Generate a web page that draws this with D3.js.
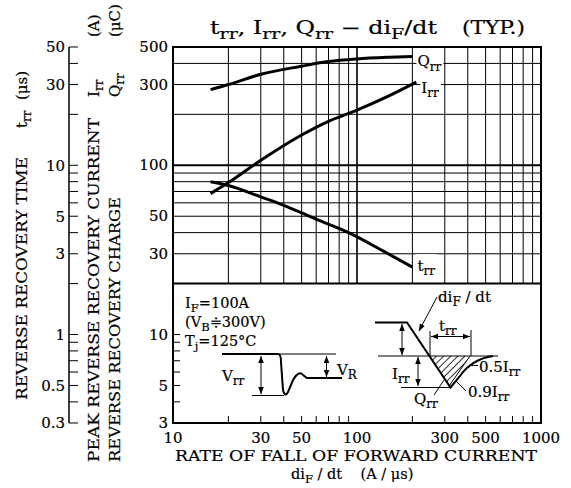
<!DOCTYPE html>
<html>
<head>
<meta charset="utf-8">
<script src="https://cdn.jsdelivr.net/npm/d3@7"></script>
<style>
  body { margin: 0; background: #fff; }
  svg text { font-family: "DejaVu Serif", serif; fill: #000; white-space: pre; stroke: #000; stroke-width: 0.2px; }
</style>
</head>
<body>
<script>
// chart values
var gridX = [20, 30, 40, 50, 60, 70, 80, 90, 100, 200, 300, 400, 500, 600, 700, 800, 900];
var gridY = [30, 40, 50, 60, 70, 80, 90, 100, 200, 300, 400];
var xLabels = [10, 30, 50, 100, 300, 500, 1000];
var rightLabels = [3, 5, 10, 30, 50, 100, 300, 500];
var leftLabels = [0.3, 0.5, 1, 3, 5, 10, 30, 50];
var leftTicks = [0.3, 0.4, 0.5, 0.6, 0.7, 0.8, 0.9, 1, 2, 3, 4, 5, 6, 7, 8, 9, 10, 20, 30, 40, 50];
var insetTicks = [4, 5, 6, 7, 8, 9, 10];

// Qrr (uC) and Irr (A) on the inner scale, trr (us) on the outer scale
var qrr = [[16, 280], [20, 300], [30, 345], [50, 385], [70, 410], [100, 425], [150, 435], [200, 440]];
var irr = [[16, 68], [20, 79], [30, 107], [50, 151], [70, 182], [100, 212], [150, 258], [210, 310]];
var trr = [[16, 8.0], [20, 7.6], [30, 6.5], [40, 5.8], [60, 4.8], [90, 4.0], [140, 3.1], [200, 2.5]];

var svg = d3.select("body").append("svg")
    .attr("width", 571)
    .attr("height", 488);

var x = d3.scaleLog().domain([10, 1000]).range([173, 541]);
var y = d3.scaleLog().domain([3, 500]).range([423, 47]);
var yLeft = d3.scaleLog().domain([0.3, 50]).range([423, 47]);

var defs = svg.append("defs");
defs.append("marker")
    .attr("id", "ah")
    .attr("viewBox", "0 0 10 10")
    .attr("refX", 10).attr("refY", 5)
    .attr("markerWidth", 7).attr("markerHeight", 7)
    .attr("markerUnits", "userSpaceOnUse")
    .attr("orient", "auto-start-reverse")
    .append("path").attr("d", "M0,1 L10,5 L0,9 Z").attr("fill", "#000");

// writes text with subscripts, parts = [[str, isSub], ...]
function rich(t, parts, size) {
    var down = false;
    parts.forEach(function(p) {
        var s = t.append("tspan").text(p[0]);
        if (p[1] && !down) { s.attr("dy", size * 0.28).attr("font-size", size * 0.8); down = true; }
        else if (p[1]) { s.attr("font-size", size * 0.8); }
        else if (down) { s.attr("dy", -size * 0.28); down = false; }
    });
    return t;
}

// grid
var grid = svg.append("g");
grid.selectAll(".gx").data(gridX).enter().append("line")
    .attr("x1", function(d) { return x(d); })
    .attr("x2", function(d) { return x(d); })
    .attr("y1", y(500)).attr("y2", y(20))
    .attr("stroke", "#000")
    .attr("stroke-width", function(d) { return d == 100 ? 1.6 : 1; });
grid.selectAll(".gy").data(gridY).enter().append("line")
    .attr("x1", x(10)).attr("x2", x(1000))
    .attr("y1", function(d) { return y(d); })
    .attr("y2", function(d) { return y(d); })
    .attr("stroke", "#000")
    .attr("stroke-width", function(d) { return d == 100 ? 2 : 1; });

// frame and the line closing the grid at 20
svg.append("rect")
    .attr("x", x(10)).attr("y", y(500))
    .attr("width", x(1000) - x(10)).attr("height", y(3) - y(500))
    .attr("fill", "none").attr("stroke", "#000").attr("stroke-width", 2);
svg.append("line")
    .attr("x1", x(10)).attr("x2", x(1000))
    .attr("y1", y(20)).attr("y2", y(20))
    .attr("stroke", "#000").attr("stroke-width", 2);

// inward ticks in the lower box
svg.selectAll(".ti").data(insetTicks).enter().append("line")
    .attr("x1", x(10)).attr("x2", x(10) + 7)
    .attr("y1", function(d) { return y(d); })
    .attr("y2", function(d) { return y(d); })
    .attr("stroke", "#000");
svg.selectAll(".tb").data(gridX.filter(function(d) { return d != 100; })).enter().append("line")
    .attr("x1", function(d) { return x(d); })
    .attr("x2", function(d) { return x(d); })
    .attr("y1", y(3)).attr("y2", y(3) - 7)
    .attr("stroke", "#000");

// tick labels
svg.selectAll(".lx").data(xLabels).enter().append("text")
    .attr("x", function(d) { return x(d); })
    .attr("y", 443)
    .attr("text-anchor", "middle")
    .attr("font-size", 15)
    .text(function(d) { return d; });
svg.selectAll(".lr").data(rightLabels).enter().append("text")
    .attr("x", 168)
    .attr("y", function(d) { return y(d); })
    .attr("dy", "0.34em")
    .attr("text-anchor", "end")
    .attr("font-size", 15)
    .text(function(d) { return d; });

// outer left axis (trr in us)
svg.append("line")
    .attr("x1", 69).attr("x2", 69)
    .attr("y1", yLeft(50)).attr("y2", yLeft(0.3))
    .attr("stroke", "#000").attr("stroke-width", 1.5);
svg.selectAll(".tl").data(leftTicks).enter().append("line")
    .attr("x1", 69).attr("x2", 78)
    .attr("y1", function(d) { return yLeft(d); })
    .attr("y2", function(d) { return yLeft(d); })
    .attr("stroke", "#000");
svg.selectAll(".ll").data(leftLabels).enter().append("text")
    .attr("x", 65)
    .attr("y", function(d) { return yLeft(d); })
    .attr("dy", "0.36em")
    .attr("text-anchor", "end")
    .attr("font-size", 15)
    .text(function(d) { return d; });

// curves
var line = d3.line()
    .x(function(d) { return x(d[0]); })
    .curve(d3.curveMonotoneX);
svg.append("path").datum(qrr)
    .attr("d", line.y(function(d) { return y(d[1]); }))
    .attr("fill", "none").attr("stroke", "#000").attr("stroke-width", 3);
svg.append("path").datum(irr)
    .attr("d", line.y(function(d) { return y(d[1]); }))
    .attr("fill", "none").attr("stroke", "#000").attr("stroke-width", 3);
svg.append("path").datum(trr)
    .attr("d", line.y(function(d) { return yLeft(d[1]); }))
    .attr("fill", "none").attr("stroke", "#000").attr("stroke-width", 3);

// curve labels with white background
function curveLabel(px, py, parts) {
    var g = svg.append("g");
    var t = rich(g.append("text").attr("x", px).attr("y", py).attr("font-size", 15), parts, 15);
    var b = t.node().getBBox();
    g.insert("rect", "text")
        .attr("x", b.x - 1).attr("y", b.y - 3)
        .attr("width", b.width + 3).attr("height", b.height + 4)
        .attr("fill", "#fff");
}
curveLabel(x(qrr[qrr.length - 1][0]) + 5, y(440) + 10, [["Q"], ["rr", 1]]);
curveLabel(x(irr[irr.length - 1][0]) + 5, y(310) + 11, [["I"], ["rr", 1]]);
curveLabel(x(trr[trr.length - 1][0]) + 5, yLeft(2.5) + 4, [["t"], ["rr", 1]]);

// title
rich(svg.append("text").attr("x", 210).attr("y", 34).attr("font-size", 18)
        .attr("textLength", 227).attr("lengthAdjust", "spacingAndGlyphs"),
    [["t"], ["rr", 1], [", I"], ["rr", 1], [", Q"], ["rr", 1], [" − di"], ["F", 1], ["/dt"]], 18);
svg.append("text").attr("x", 462).attr("y", 34).attr("font-size", 18)
    .attr("textLength", 63).attr("lengthAdjust", "spacingAndGlyphs")
    .text("(TYP.)");

// x axis title
svg.append("text").attr("x", 175).attr("y", 461).attr("font-size", 14.5)
    .attr("textLength", 362).attr("lengthAdjust", "spacingAndGlyphs")
    .text("RATE OF FALL OF FORWARD CURRENT");
rich(svg.append("text").attr("x", 291).attr("y", 478.5).attr("font-size", 14.5),
    [["di"], ["F", 1], [" / dt    (A / μs)"]], 14.5);

// rotated y titles
function vtitle(bx, by, main, len, sym, symAt, unit, unitAt) {
    var t = svg.append("text").attr("transform", "translate(" + bx + "," + by + ") rotate(-90)")
        .attr("font-size", 15);
    t.append("tspan").attr("x", 0).attr("textLength", len).attr("lengthAdjust", "spacingAndGlyphs").text(main);
    t.append("tspan").attr("x", symAt).text(sym);
    t.append("tspan").attr("font-size", 12).attr("dy", 4).text("rr");
    t.append("tspan").attr("x", unitAt).attr("dy", -4).text(unit);
}
vtitle(27, 400, "REVERSE RECOVERY TIME", 243, "t", 272, "(μs)", 300);
vtitle(99, 462, "PEAK REVERSE RECOVERY CURRENT", 344, "I", 365, "(A)", 425);
vtitle(120, 462, "REVERSE RECOVERY CHARGE", 265, "Q", 365, "(μC)", 425);

// test conditions in the lower box
rich(svg.append("text").attr("x", 185).attr("y", 308).attr("font-size", 14.5), [["I"], ["F", 1], ["=100A"]], 14.5);
rich(svg.append("text").attr("x", 185).attr("y", 327).attr("font-size", 14.5), [["(V"], ["B", 1], ["≑300V)"]], 14.5);
rich(svg.append("text").attr("x", 185).attr("y", 346).attr("font-size", 14.5), [["T"], ["j", 1], ["=125°C"]], 14.5);

// voltage waveform sketch
var sk = svg.append("g").attr("fill", "none").attr("stroke", "#000");
sk.append("path").attr("stroke-width", 2)
    .attr("d", "M222,354 L278,354 Q281,354 281,362 L283,390 Q285,398 288,392 L293,380 Q299,370 303,375 L307,378 L342,378");
sk.append("path").attr("d", "M278,354 L336,354 M252,395.5 L284,395.5");
sk.append("path").attr("d", "M261,356 L261,394").attr("marker-start", "url(#ah)").attr("marker-end", "url(#ah)");
sk.append("path").attr("d", "M326.5,356 L326.5,377").attr("marker-start", "url(#ah)").attr("marker-end", "url(#ah)");
rich(svg.append("text").attr("x", 222).attr("y", 381).attr("font-size", 15), [["V"], ["rr", 1]], 15);
rich(svg.append("text").attr("x", 337).attr("y", 375).attr("font-size", 15), [["V"], ["R", 1]], 15);

// current waveform sketch
var hatch = defs.append("pattern").attr("id", "hatch")
    .attr("patternUnits", "userSpaceOnUse").attr("width", 5).attr("height", 5)
    .attr("patternTransform", "rotate(45)");
hatch.append("line").attr("x1", 0).attr("y1", 0).attr("x2", 0).attr("y2", 5)
    .attr("stroke", "#000").attr("stroke-width", 1.6);
sk.append("path").attr("d", "M429,356 L470,356 L449,386 Z").attr("fill", "url(#hatch)").attr("stroke", "none");
sk.append("path").attr("d", "M449,386 L470,356");
sk.append("path").attr("stroke-width", 2)
    .attr("d", "M375,322.5 L407,322.5 L450.5,387.5 L460,376 Q472,359 493,356");
sk.append("path").attr("d", "M378,356 L498,356 M401,387.5 L450,387.5 M430,331 L430,356 M471,330 L471,356");
sk.append("path").attr("d", "M402,324 L402,355").attr("marker-start", "url(#ah)").attr("marker-end", "url(#ah)");
sk.append("path").attr("d", "M418,357 L418,386").attr("marker-start", "url(#ah)").attr("marker-end", "url(#ah)");
sk.append("path").attr("d", "M431,336.5 L470,336.5").attr("marker-start", "url(#ah)").attr("marker-end", "url(#ah)");
sk.append("path").attr("d", "M437,297 L419,331").attr("marker-end", "url(#ah)");
sk.append("path").attr("d", "M434,395 L444,380 M456,381 L466,391 M471,365.5 L478,365.5");
rich(svg.append("text").attr("x", 438).attr("y", 302).attr("font-size", 15), [["di"], ["F", 1], [" / dt"]], 15);
rich(svg.append("text").attr("x", 439).attr("y", 331).attr("font-size", 15), [["t"], ["rr", 1]], 15);
rich(svg.append("text").attr("x", 392).attr("y", 379).attr("font-size", 15), [["I"], ["rr", 1]], 15);
rich(svg.append("text").attr("x", 414).attr("y", 404).attr("font-size", 15), [["Q"], ["rr", 1]], 15);
rich(svg.append("text").attr("x", 479).attr("y", 372).attr("font-size", 15), [["0.5I"], ["rr", 1]], 15);
rich(svg.append("text").attr("x", 468).attr("y", 397).attr("font-size", 15), [["0.9I"], ["rr", 1]], 15);
</script>
</body>
</html>
